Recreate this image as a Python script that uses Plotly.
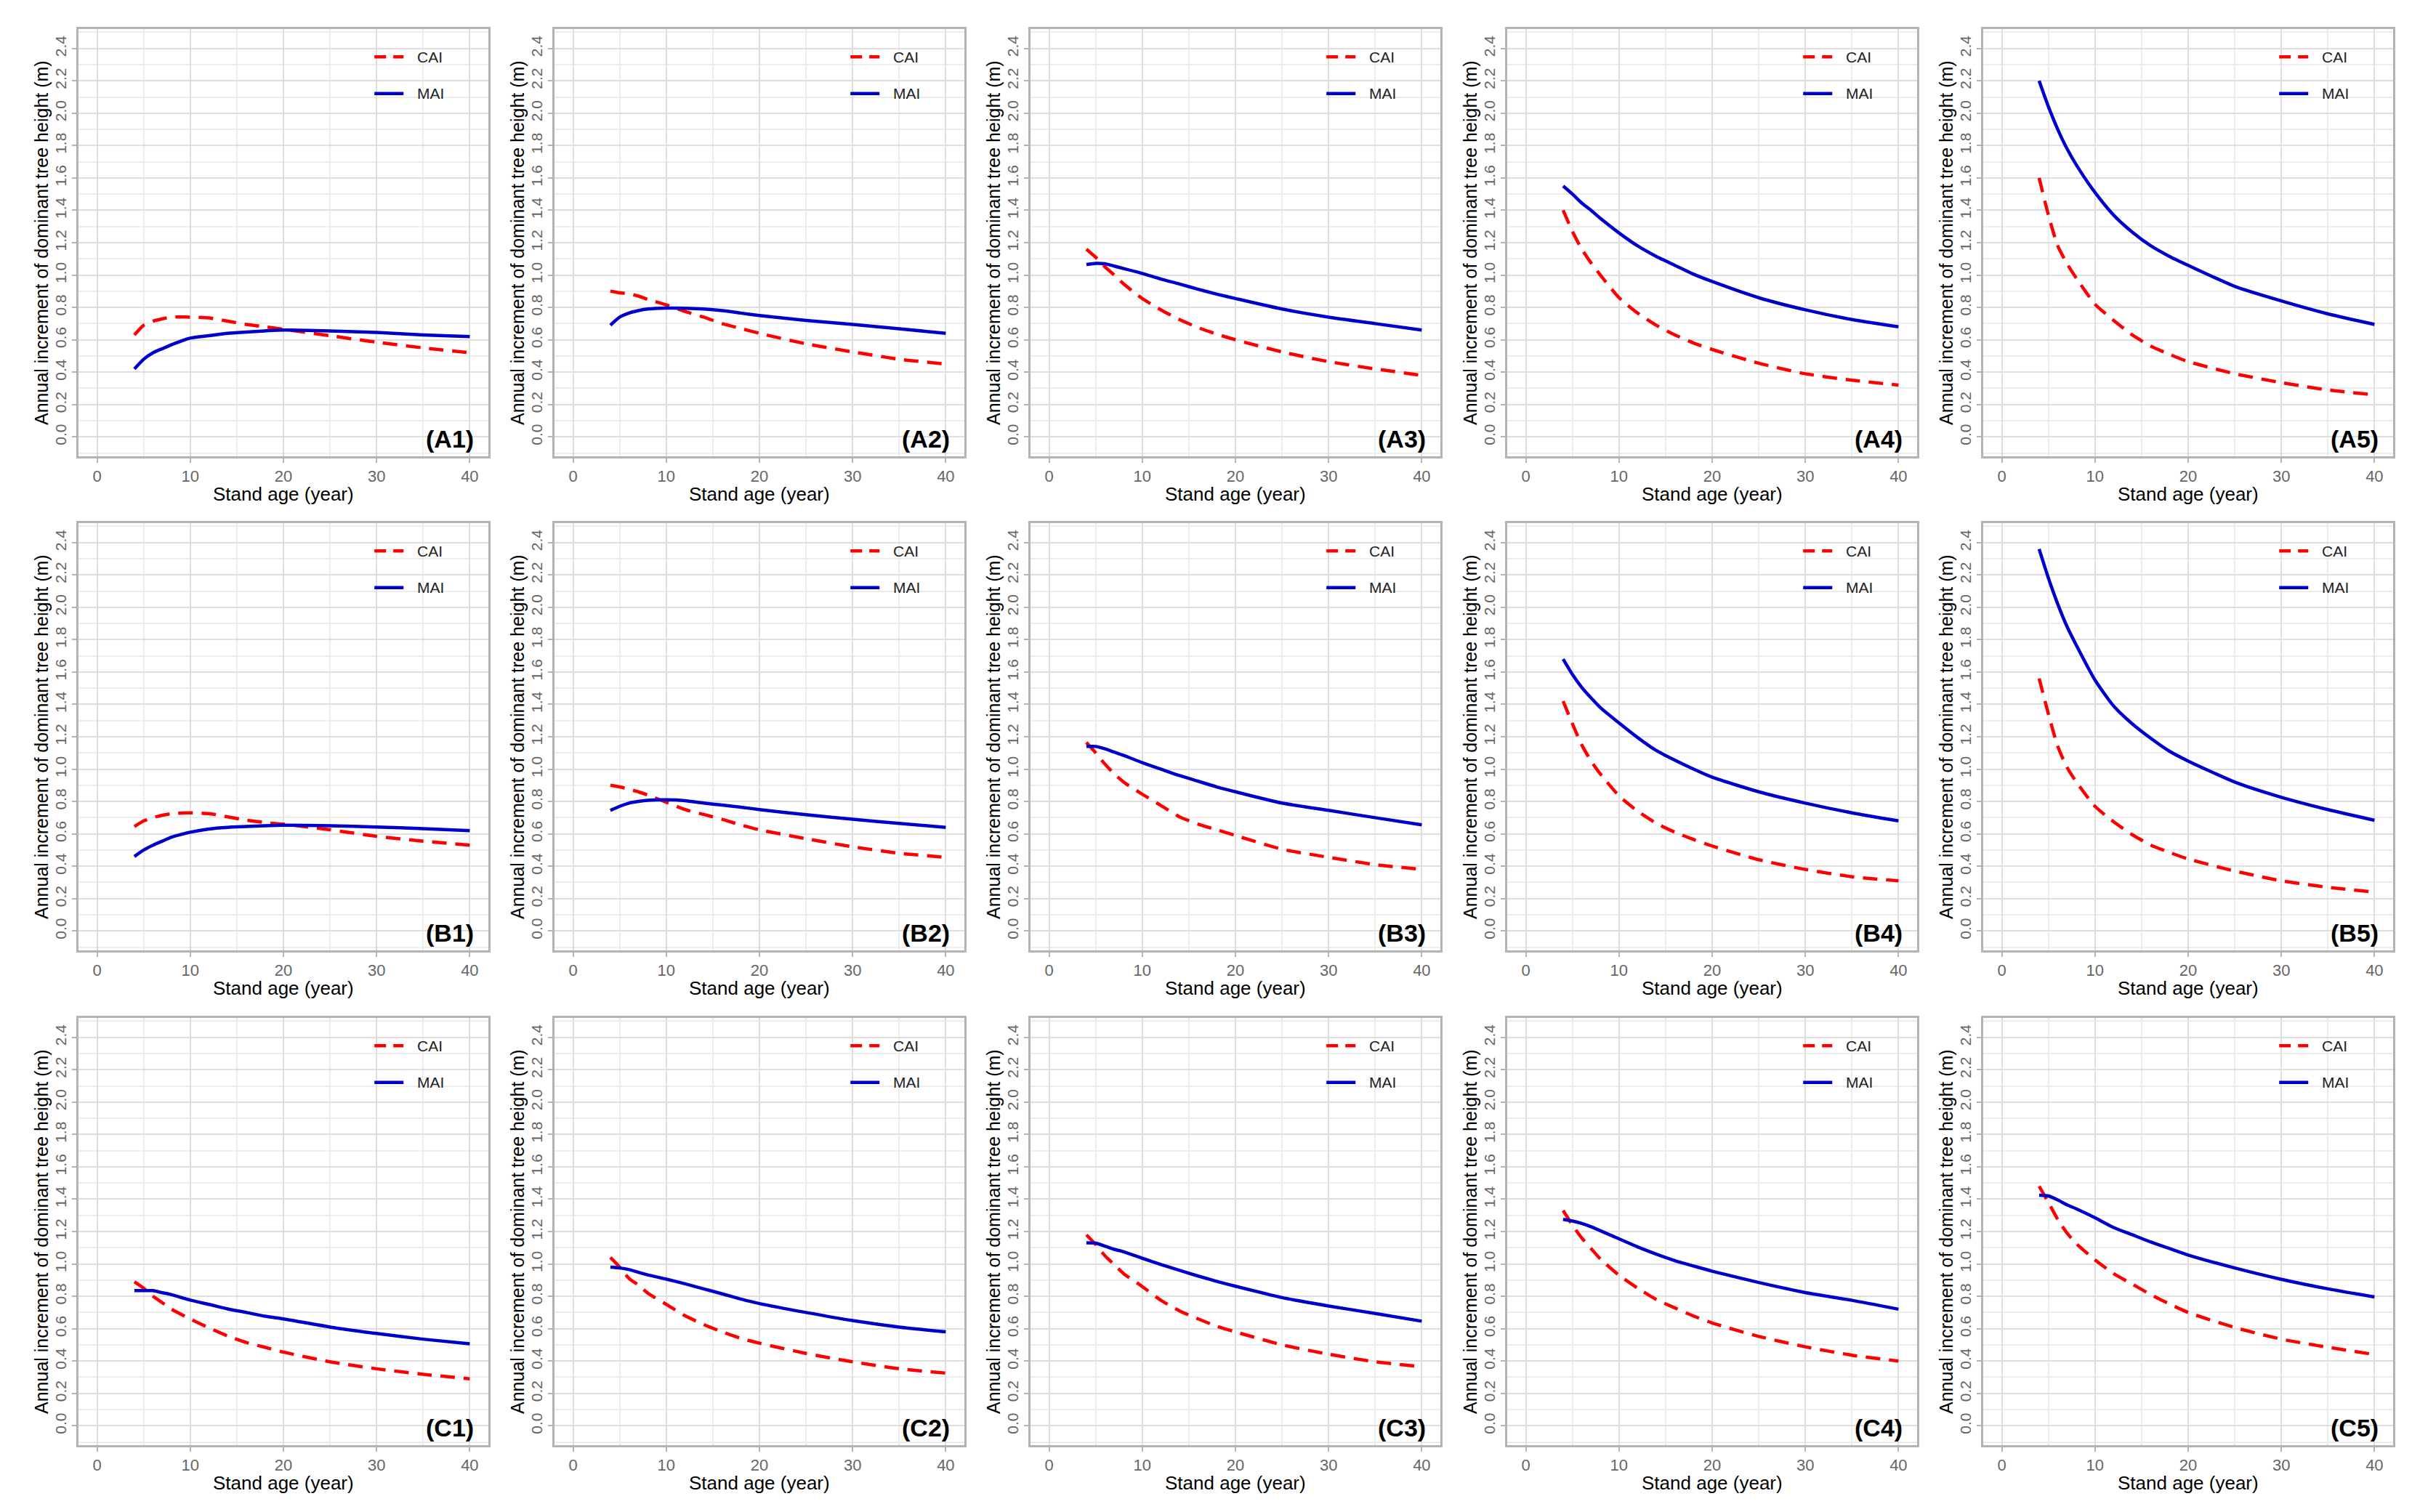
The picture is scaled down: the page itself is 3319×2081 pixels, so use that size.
import plotly.graph_objects as go
from plotly.subplots import make_subplots

# ---------------------------------------------------------------
# data (stand age in years, increment in m)
# ---------------------------------------------------------------
ages = [4, 5, 6, 7, 8, 10, 12, 14, 16, 18, 20, 25, 30, 35, 40]

cai_A1 = [0.63, 0.69, 0.715, 0.73, 0.74, 0.74, 0.735, 0.715, 0.695, 0.68, 0.665, 0.625, 0.585, 0.55, 0.52]
mai_A1 = [0.42, 0.48, 0.52, 0.545, 0.57, 0.61, 0.625, 0.64, 0.648, 0.655, 0.66, 0.655, 0.645, 0.63, 0.62]
cai_A2 = [0.90, 0.89, 0.885, 0.87, 0.85, 0.815, 0.775, 0.74, 0.70, 0.67, 0.64, 0.575, 0.525, 0.48, 0.45]
mai_A2 = [0.69, 0.74, 0.765, 0.78, 0.79, 0.796, 0.795, 0.79, 0.78, 0.765, 0.75, 0.72, 0.695, 0.668, 0.64]
cai_A3 = [1.16, 1.11, 1.05, 1.00, 0.945, 0.855, 0.785, 0.725, 0.675, 0.635, 0.60, 0.525, 0.465, 0.42, 0.38]
mai_A3 = [1.065, 1.072, 1.07, 1.055, 1.04, 1.01, 0.975, 0.945, 0.912, 0.882, 0.855, 0.79, 0.74, 0.70, 0.66]
cai_A4 = [1.40, 1.27, 1.16, 1.075, 1.00, 0.86, 0.765, 0.69, 0.63, 0.58, 0.54, 0.455, 0.39, 0.35, 0.32]
mai_A4 = [1.55, 1.50, 1.445, 1.40, 1.35, 1.26, 1.18, 1.115, 1.06, 1.005, 0.96, 0.86, 0.785, 0.725, 0.68]
cai_A5 = [1.60, 1.37, 1.18, 1.07, 0.98, 0.82, 0.72, 0.63, 0.56, 0.51, 0.465, 0.39, 0.335, 0.29, 0.26]
mai_A5 = [2.20, 2.04, 1.90, 1.78, 1.68, 1.51, 1.37, 1.265, 1.18, 1.115, 1.06, 0.93, 0.84, 0.76, 0.695]

cai_B1 = [0.645, 0.68, 0.70, 0.715, 0.725, 0.73, 0.725, 0.705, 0.685, 0.67, 0.66, 0.625, 0.585, 0.555, 0.53]
mai_B1 = [0.46, 0.50, 0.53, 0.555, 0.58, 0.61, 0.63, 0.64, 0.645, 0.65, 0.653, 0.65, 0.642, 0.632, 0.62]
cai_B2 = [0.90, 0.89, 0.875, 0.86, 0.84, 0.795, 0.75, 0.72, 0.69, 0.655, 0.625, 0.57, 0.52, 0.48, 0.455]
mai_B2 = [0.745, 0.77, 0.79, 0.80, 0.807, 0.81, 0.805, 0.79, 0.778, 0.765, 0.75, 0.718, 0.69, 0.665, 0.64]
cai_B3 = [1.165, 1.10, 1.03, 0.97, 0.92, 0.845, 0.775, 0.705, 0.66, 0.625, 0.59, 0.505, 0.455, 0.41, 0.38]
mai_B3 = [1.14, 1.14, 1.125, 1.105, 1.085, 1.04, 1.00, 0.96, 0.925, 0.89, 0.86, 0.79, 0.745, 0.70, 0.656]
cai_B4 = [1.42, 1.28, 1.15, 1.05, 0.97, 0.835, 0.74, 0.665, 0.61, 0.565, 0.525, 0.44, 0.38, 0.335, 0.31]
mai_B4 = [1.68, 1.585, 1.505, 1.44, 1.38, 1.285, 1.195, 1.115, 1.055, 1.00, 0.95, 0.86, 0.79, 0.73, 0.68]
cai_B5 = [1.56, 1.34, 1.14, 1.01, 0.92, 0.77, 0.675, 0.595, 0.53, 0.485, 0.445, 0.37, 0.31, 0.27, 0.24]
mai_B5 = [2.36, 2.18, 2.02, 1.88, 1.765, 1.55, 1.39, 1.28, 1.19, 1.11, 1.05, 0.92, 0.826, 0.75, 0.684]

cai_C1 = [0.89, 0.85, 0.80, 0.76, 0.72, 0.66, 0.605, 0.555, 0.515, 0.485, 0.455, 0.395, 0.352, 0.318, 0.29]
mai_C1 = [0.835, 0.835, 0.835, 0.822, 0.81, 0.776, 0.75, 0.722, 0.70, 0.677, 0.66, 0.61, 0.57, 0.535, 0.506]
cai_C2 = [1.04, 0.98, 0.91, 0.87, 0.82, 0.75, 0.68, 0.626, 0.58, 0.54, 0.51, 0.447, 0.395, 0.352, 0.325]
mai_C2 = [0.98, 0.975, 0.965, 0.948, 0.932, 0.906, 0.877, 0.846, 0.815, 0.783, 0.755, 0.70, 0.65, 0.61, 0.58]
cai_C3 = [1.18, 1.12, 1.05, 0.995, 0.94, 0.86, 0.775, 0.71, 0.66, 0.615, 0.58, 0.50, 0.442, 0.395, 0.365]
mai_C3 = [1.13, 1.128, 1.11, 1.09, 1.075, 1.035, 0.996, 0.96, 0.925, 0.892, 0.862, 0.792, 0.74, 0.694, 0.646]
cai_C4 = [1.33, 1.24, 1.16, 1.095, 1.03, 0.93, 0.85, 0.78, 0.728, 0.678, 0.635, 0.552, 0.488, 0.436, 0.40]
mai_C4 = [1.275, 1.265, 1.25, 1.23, 1.205, 1.155, 1.105, 1.06, 1.02, 0.987, 0.955, 0.885, 0.823, 0.775, 0.72]
cai_C5 = [1.48, 1.38, 1.275, 1.19, 1.125, 1.025, 0.94, 0.875, 0.81, 0.752, 0.70, 0.607, 0.535, 0.485, 0.44]
mai_C5 = [1.425, 1.42, 1.395, 1.365, 1.34, 1.285, 1.225, 1.18, 1.135, 1.095, 1.055, 0.975, 0.905, 0.846, 0.796]

panel_labels = ["A1", "A2", "A3", "A4", "A5",
                "B1", "B2", "B3", "B4", "B5",
                "C1", "C2", "C3", "C4", "C5"]
cai_all = [cai_A1, cai_A2, cai_A3, cai_A4, cai_A5,
           cai_B1, cai_B2, cai_B3, cai_B4, cai_B5,
           cai_C1, cai_C2, cai_C3, cai_C4, cai_C5]
mai_all = [mai_A1, mai_A2, mai_A3, mai_A4, mai_A5,
           mai_B1, mai_B2, mai_B3, mai_B4, mai_B5,
           mai_C1, mai_C2, mai_C3, mai_C4, mai_C5]

y_ticks = [0.0, 0.2, 0.4, 0.6, 0.8, 1.0, 1.2, 1.4, 1.6, 1.8, 2.0, 2.2, 2.4]
x_ticks = [0, 10, 20, 30, 40]

x_title = "Stand age (year)"
y_title = "Annual increment of dominant tree height (m)"

#----------------------------------------------------------------
# page geometry (pixels)
#----------------------------------------------------------------
W, H = 3319, 2081
col_left = [100, 755, 1410, 2066, 2721]
row_top = [32, 712, 1393]
pw, ph = 564, 588

font_name = "Liberation Sans, Arial, sans-serif"
red = "#ff0000"
blue = "#0000cd"

fig = make_subplots(rows=3, cols=5)

for i in range(15):
   r = i // 5
   c = i % 5
   ax = "" if i == 0 else str(i + 1)

   fig.add_trace(go.Scatter(x=ages, y=cai_all[i], mode="lines", name="CAI", showlegend=False,
                            line=dict(color=red, width=4.5, dash="20px,12px", shape="spline", smoothing=0.6)),
                 row=r + 1, col=c + 1)
   fig.add_trace(go.Scatter(x=ages, y=mai_all[i], mode="lines", name="MAI", showlegend=False,
                            line=dict(color=blue, width=4.5, shape="spline", smoothing=0.6)),
                 row=r + 1, col=c + 1)

   x0 = col_left[c] / W
   x1 = (col_left[c] + pw) / W
   y1 = 1 - row_top[r] / H
   y0 = 1 - (row_top[r] + ph) / H

   fig.layout["xaxis" + ax].update(
      domain=[x0, x1], range=[-2, 42], tickvals=x_ticks, ticktext=[str(v) for v in x_ticks],
      showgrid=True, gridcolor="#dedede", gridwidth=2,
      minor=dict(dtick=5, tick0=0, showgrid=True, gridcolor="#ececec", gridwidth=1.5),
      ticks="outside", ticklen=6, tickwidth=2, tickcolor="#b3b3b3",
      tickfont=dict(family=font_name, size=22, color="#666666"),
      showline=True, linecolor="#b3b3b3", linewidth=2.5, mirror=True, zeroline=False)
   fig.layout["yaxis" + ax].update(
      domain=[y0, y1], range=[-0.12, 2.52], tickvals=y_ticks, ticktext=[f"{v:.1f}" for v in y_ticks],
      tickangle=-90,
      showgrid=True, gridcolor="#dedede", gridwidth=2,
      minor=dict(dtick=0.2, tick0=0.1, showgrid=True, gridcolor="#ececec", gridwidth=1.5),
      ticks="outside", ticklen=6, tickwidth=2, tickcolor="#b3b3b3",
      tickfont=dict(family=font_name, size=21, color="#666666"),
      showline=True, linecolor="#b3b3b3", linewidth=2.5, mirror=True, zeroline=False)

   # legend inside the panel (top right)
   xd = "x" + ax + " domain"
   yd = "y" + ax + " domain"
   fig.add_shape(type="line", xref=xd, yref=yd, x0=0.722, x1=0.793, y0=0.935, y1=0.935,
                 line=dict(color=red, width=4.5, dash="16px,10px"))
   fig.add_shape(type="line", xref=xd, yref=yd, x0=0.722, x1=0.793, y0=0.849, y1=0.849,
                 line=dict(color=blue, width=4.5))
   fig.add_annotation(xref=xd, yref=yd, x=0.822, y=0.935, text="CAI", showarrow=False,
                      xanchor="left", yanchor="middle", font=dict(family=font_name, size=21, color="#222222"))
   fig.add_annotation(xref=xd, yref=yd, x=0.822, y=0.849, text="MAI", showarrow=False,
                      xanchor="left", yanchor="middle", font=dict(family=font_name, size=21, color="#222222"))

   # panel label
   fig.add_annotation(xref=xd, yref=yd, x=0.968, y=0.04, text="<b>(" + panel_labels[i] + ")</b>",
                      showarrow=False, xanchor="right", yanchor="middle",
                      font=dict(family=font_name, size=34, color="#000000"))

   # axis titles
   fig.add_annotation(xref="paper", yref="paper", x=(x0 + x1) / 2, y=1 - (row_top[r] + ph + 52) / H,
                      text=x_title, showarrow=False, xanchor="center", yanchor="middle",
                      font=dict(family=font_name, size=26, color="#000000"))
   fig.add_annotation(xref="paper", yref="paper", x=(col_left[c] - 51) / W, y=(y0 + y1) / 2,
                      text=y_title, textangle=-90, showarrow=False, xanchor="center", yanchor="middle",
                      font=dict(family=font_name, size=25, color="#000000"))

fig.update_layout(width=W, height=H, margin=dict(l=0, r=0, t=0, b=0),
                  paper_bgcolor="white", plot_bgcolor="white", showlegend=False)

fig.write_html("out.html")
